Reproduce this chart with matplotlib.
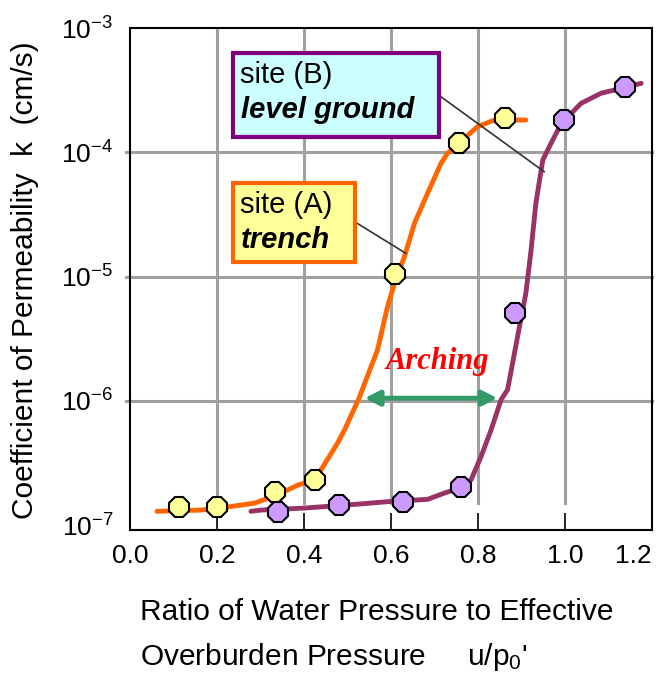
import numpy as np
import matplotlib
matplotlib.use("Agg")
import matplotlib.pyplot as plt
from matplotlib.patches import Rectangle

plt.rcParams['font.family'] = ['Liberation Sans', 'DejaVu Sans']
plt.rcParams['mathtext.fontset'] = 'custom'
plt.rcParams['mathtext.rm'] = 'Liberation Sans'
plt.rcParams['mathtext.it'] = 'Liberation Sans:italic'
plt.rcParams['axes.unicode_minus'] = False

# %% data
# site (A) trench - measured points
a_x = [0.113, 0.200, 0.333, 0.425, 0.608, 0.757, 0.863]
a_k = [1.41e-7, 1.41e-7, 1.83e-7, 2.31e-7, 1.04e-5, 1.18e-4, 1.88e-4]
# site (A) hand drawn curve
a_line_x = [0.062, 0.163, 0.232, 0.286, 0.317, 0.363, 0.386, 0.424, 0.439,
            0.458, 0.477, 0.493, 0.525, 0.569, 0.592, 0.608, 0.631, 0.654,
            0.684, 0.715, 0.730, 0.799, 0.838, 0.910]
a_line_k = [1.29e-7, 1.32e-7, 1.41e-7, 1.50e-7, 1.64e-7, 1.92e-7, 2.10e-7,
            2.31e-7, 2.78e-7, 3.56e-7, 4.56e-7, 5.83e-7, 1.02e-6, 2.57e-6,
            5.73e-6, 8.83e-6, 1.45e-5, 2.69e-5, 4.68e-5, 8.17e-5, 9.82e-5,
            1.61e-4, 1.82e-4, 1.82e-4]

# site (B) level ground - measured points
b_x = [0.341, 0.481, 0.627, 0.760, 0.885, 0.998, 1.139]
b_k = [1.28e-7, 1.46e-7, 1.52e-7, 2.02e-7, 5.07e-6, 1.82e-4, 3.33e-4]
# site (B) hand drawn curve
b_line_x = [0.278, 0.301, 0.401, 0.531, 0.600, 0.684, 0.723, 0.760, 0.784,
            0.807, 0.830, 0.853, 0.868, 0.891, 0.910, 0.922, 0.933, 0.949,
            0.964, 0.991, 1.037, 1.083, 1.139, 1.175]
b_line_k = [1.29e-7, 1.32e-7, 1.37e-7, 1.48e-7, 1.55e-7, 1.61e-7, 1.81e-7,
            2.0e-7, 2.31e-7, 3.56e-7, 5.83e-7, 1.02e-6, 1.23e-6, 3.3e-6,
            7.35e-6, 1.64e-5, 3.9e-5, 8.7e-5, 1.11e-4, 1.70e-4, 2.48e-4,
            2.99e-4, 3.33e-4, 3.59e-4]

x_ticks = [0.0, 0.2, 0.4, 0.6, 0.8, 1.0, 1.2]
y_ticks = [1e-7, 1e-6, 1e-5, 1e-4, 1e-3]

# arching arrow and callout leader lines
arch_x = [0.539, 0.845]
arch_k = 1.05e-6
lead_b_x = [0.703, 0.952]
lead_b_k = [10**-3.523, 10**-4.156]
lead_a_x = [0.516, 0.634]
lead_a_k = [10**-4.558, 10**-4.813]

# %% figure
fig = plt.figure(figsize=(6.65, 6.79), dpi=100)
ax = fig.add_axes([0.1955, 0.2194, 0.785, 0.7393])
ax.set_yscale('log')
ax.set_xlim(0, 1.2)
ax.set_ylim(10**-7.04, 1e-3)

grid_c = '#a0a0a0'
for v in y_ticks[1:-1]:
    ax.axhline(v, xmin=-0.008, xmax=1, color=grid_c, lw=2.2, clip_on=False, zorder=1)
for v in x_ticks[1:-1]:
    ax.plot([v, v], [1.51e-7, 1e-3], color=grid_c, lw=2.2, zorder=1)

ax.plot(a_line_x, a_line_k, color='#ff6600', lw=3.5, solid_capstyle='round', zorder=3)
ax.plot(b_line_x, b_line_k, color='#993366', lw=3.5, solid_capstyle='round', zorder=3)
ax.plot(a_x, a_k, ls='none', marker='8', ms=16, mfc='#ffff99', mec='black', mew=1.5, zorder=4)
ax.plot(b_x, b_k, ls='none', marker='8', ms=16, mfc='#cc99ff', mec='black', mew=1.5, zorder=4)

ax.annotate('', xy=(arch_x[0], arch_k), xytext=(arch_x[1], arch_k),
            arrowprops=dict(arrowstyle='<|-|>', color='#339966', lw=3.5,
                            mutation_scale=22, shrinkA=0, shrinkB=0), zorder=5)
ax.text(0.707, 2.07e-6, 'Arching', color='red', fontsize=22, fontweight='bold',
        fontstyle='italic', family='Liberation Serif', ha='center', va='center', zorder=5)

ax.plot(lead_b_x, lead_b_k, color='#333333', lw=1.2, zorder=5)
ax.plot(lead_a_x, lead_a_k, color='#333333', lw=1.2, zorder=5)

ax.add_patch(Rectangle((0.197, 0.783), 0.394, 0.167, transform=ax.transAxes,
                       facecolor='#ccffff', edgecolor='#800080', lw=3, zorder=6))
ax.text(0.211, 0.906, 'site (B)', transform=ax.transAxes, fontsize=21, va='center', zorder=7)
ax.text(0.213, 0.837, 'level ground', transform=ax.transAxes, fontsize=21, va='center',
        fontweight='bold', fontstyle='italic', zorder=7)

ax.add_patch(Rectangle((0.197, 0.534), 0.234, 0.158, transform=ax.transAxes,
                       facecolor='#ffff99', edgecolor='#ff6600', lw=3, zorder=6))
ax.text(0.211, 0.647, 'site (A)', transform=ax.transAxes, fontsize=21, va='center', zorder=7)
ax.text(0.213, 0.578, 'trench', transform=ax.transAxes, fontsize=21, va='center',
        fontweight='bold', fontstyle='italic', zorder=7)

ax.set_xticks(x_ticks)
ax.set_xticklabels(['%.1f' % v for v in x_ticks])
ax.get_xticklabels()[-1].set_ha('right')
ax.get_xticklabels()[-1].set_x(1.21)
ax.set_yticks(y_ticks)
ax.minorticks_off()
ax.tick_params(axis='x', direction='in', length=12, width=1.2, pad=10, labelsize=19)
ax.tick_params(axis='y', length=0, pad=12, labelsize=19)
for s in ax.spines.values():
    s.set_linewidth(1.5)
    s.set_zorder(8)

fig.text(0.038, 0.5876, 'Coefficient of Permeability  k  (cm/s)', rotation=90,
         ha='center', va='center', fontsize=21.5)
fig.text(0.21, 0.0987, 'Ratio of Water Pressure to Effective', ha='left', va='center', fontsize=21.5)
fig.text(0.21, 0.0324, "Overburden Pressure     u/p$_0$'", ha='left', va='center', fontsize=21.5)

fig.savefig('out.png', dpi=100)
